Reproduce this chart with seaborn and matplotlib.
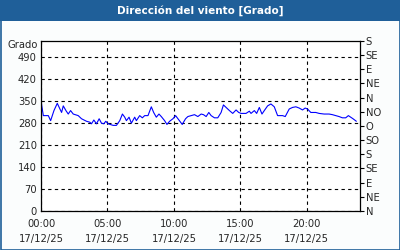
import matplotlib
matplotlib.use("Agg")
import matplotlib.pyplot as plt
import seaborn as sns
import pandas as pd
from matplotlib.patches import Rectangle

hours = [0, 0.175, 0.55, 0.725, 0.975, 1.225, 1.425, 1.55, 1.675, 1.875, 2.05, 2.225, 2.425, 2.8, 3.05,
         3.425, 3.675, 3.8, 3.975, 4.175, 4.375, 4.55, 4.725, 4.875, 5.05, 5.425, 5.675, 5.925, 6.125,
         6.3, 6.425, 6.625, 6.8, 7.05, 7.175, 7.425, 7.625, 7.8, 8.05, 8.3, 8.475, 8.675, 8.875, 9.05,
         9.3, 9.475, 9.675, 9.925, 10.125, 10.375, 10.625, 10.875, 11.05, 11.3, 11.55, 11.8, 12.05,
         12.225, 12.425, 12.625, 12.8, 13.05, 13.3, 13.55, 13.725, 13.925, 14.175, 14.425, 14.675,
         14.875, 15.05, 15.425, 15.675, 15.8, 16.05, 16.225, 16.425, 16.625, 16.8, 17.05, 17.3, 17.55,
         17.8, 18.175, 18.375, 18.675, 18.925, 19.175, 19.425, 19.675, 19.875, 20.05, 20.3, 20.675,
         20.925, 21.3, 21.675, 21.925, 22.175, 22.425, 22.675, 22.925, 23.125, 23.3, 23.475, 23.725]
direction = [350, 303, 303, 287, 319, 342, 324, 313, 334, 319, 308, 319, 308, 303, 293,
             285, 282, 277, 289, 277, 293, 279, 277, 285, 277, 272, 272, 287, 308,
             298, 287, 298, 279, 298, 287, 303, 296, 303, 303, 331, 313, 298, 308, 300,
             287, 275, 285, 293, 303, 289, 275, 293, 300, 303, 306, 300, 308,
             306, 300, 313, 303, 296, 296, 313, 337, 329, 319, 310, 321,
             313, 310, 310, 317, 310, 319, 310, 329, 308, 319, 334, 340, 331,
             303, 303, 300, 324, 329, 331, 327, 321, 327, 324, 313, 313,
             310, 308, 308, 306, 303, 300, 296, 296, 303, 298, 293, 285]

y_ticks = [0, 70, 140, 210, 280, 350, 420, 490]
compass_vals = [0, 45, 90, 135, 180, 225, 270, 315, 360, 405, 450, 495, 540]
compass_labels = ["N", "NE", "E", "SE", "S", "SO", "O", "NO", "N", "NE", "E", "SE", "S"]
x_major = [0, 5, 10, 15, 20]
x_labels = ["00:00\n17/12/25", "05:00\n17/12/25", "10:00\n17/12/25", "15:00\n17/12/25", "20:00\n17/12/25"]
title = "Dirección del viento [Grado]"
unit = "Grado"

df = pd.DataFrame({"h": hours, "dir": direction})

sns.set_style("white")
plt.rcParams["font.family"] = ["DejaVu Sans"]
fs = 7.2

fig = plt.figure(figsize=(4, 2.5), dpi=100, facecolor="#fbfdfd")
# title bar and frame
fig.patches.append(Rectangle((0, 1 - 21 / 250), 1, 21 / 250, transform=fig.transFigure,
                             facecolor="#1f5f99", edgecolor="none", zorder=0))
fig.patches.append(Rectangle((0.5 / 400, 0.5 / 250), 1 - 1 / 400, 1 - 1 / 250, transform=fig.transFigure,
                             facecolor="none", edgecolor="#1f5f99", lw=1.2, zorder=1))
fig.text(0.5, 1 - 11 / 250, title, color="white", fontsize=7.5, fontweight="bold",
         ha="center", va="center")

ax = fig.add_axes([41 / 400, 39 / 250, 319 / 400, 170 / 250])
ax.set_facecolor("white")
sns.lineplot(data=df, x="h", y="dir", ax=ax, color="#0000ff", lw=0.8)
ax.set_xlim(0, 24)
ax.set_ylim(0, 540)
ax.set_xlabel("")
ax.set_ylabel("")
ax.set_yticks(y_ticks)
ax.set_yticklabels([str(v) for v in y_ticks], fontsize=fs)
ax.set_xticks(x_major)
ax.set_xticklabels(x_labels, fontsize=fs, linespacing=1.6)
ax.set_xticks(list(range(0, 25)), minor=True)
ax.tick_params(axis="y", length=0, pad=3)
ax.tick_params(axis="x", which="both", length=3, width=0.8, direction="out", pad=3, color="black")
ax.grid(True, which="major", color="black", linestyle=(0, (3, 3)), lw=0.8)
for s in ax.spines.values():
    s.set_color("black")
    s.set_linewidth(0.9)

ax2 = ax.twinx()
ax2.set_ylim(0, 540)
ax2.set_yticks(compass_vals)
ax2.set_yticklabels(compass_labels, fontsize=fs)
ax2.tick_params(axis="y", length=3, width=0.8, pad=1, color="black")
for s in ax2.spines.values():
    s.set_visible(False)

ax.text(-0.01, 0.975, unit, transform=ax.transAxes, ha="right", va="center", fontsize=fs)

fig.savefig("out.png", dpi=100, facecolor=fig.get_facecolor())
